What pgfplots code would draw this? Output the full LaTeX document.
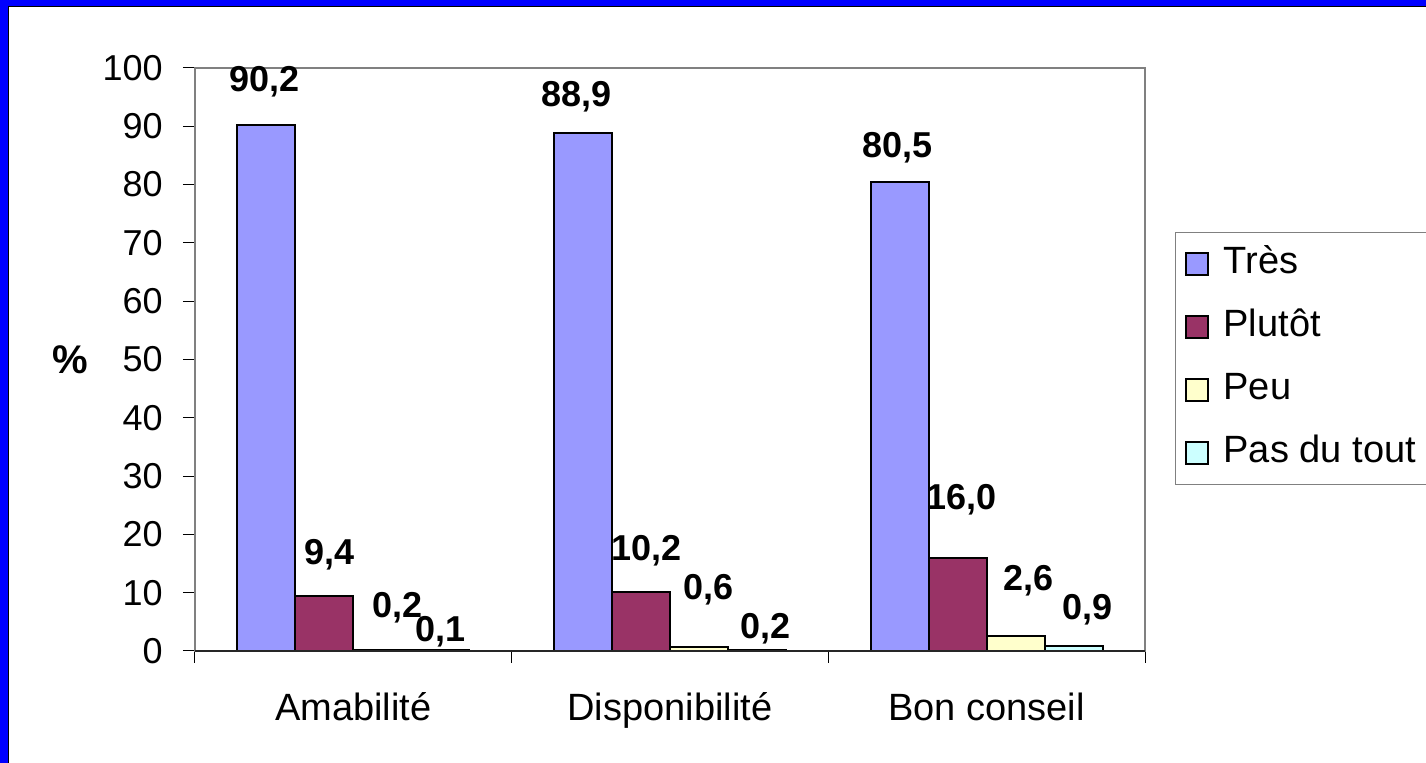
\documentclass[border=0pt]{standalone}
\usepackage{pgfplots}
\pgfplotsset{compat=1.18}
\usepackage{fontspec}
\setmainfont{Liberation Sans}
\definecolor{tres}{HTML}{9999FF}
\definecolor{plutot}{HTML}{993366}
\definecolor{peu}{HTML}{FFFFCC}
\definecolor{pas}{HTML}{CCFFFF}
\definecolor{frameblue}{HTML}{0000FF}
\newcommand\fs{\fontsize{18pt}{21pt}\selectfont}
\newcommand\fl{\fontsize{19pt}{22pt}\selectfont}
\pgfplotstableread{
x y lab
-0.279 97.6 90,2
-0.074 16.5 9,4
0.141 7.5 0,2
0.274 3.3 0,1
0.706 95.0 88,9
0.927 17.2 10,2
1.123 10.5 0,6
1.303 3.9 0,2
1.717 86.3 80,5
1.922 25.9 16,0
2.131 12.0 2,6
2.317 7.0 0,9
}\labels
\begin{document}
\begin{tikzpicture}
\useasboundingbox (0,0) rectangle (713pt,381.5pt);
\clip (0,0) rectangle (713pt,381.5pt);
\fill[frameblue] (0,0) rectangle (713pt,381.5pt);
\fill[white] (4.5pt,0) rectangle (713pt,378pt);
\draw[black, line width=0.6pt] (4.3pt,0) -- (4.3pt,378.2pt) -- (713pt,378.2pt);
\begin{axis}[
  at={(97.5pt,56pt)}, anchor=south west,
  scale only axis, width=475pt, height=291.5pt,
  xmin=-0.5, xmax=2.5, ymin=0, ymax=100,
  clip=false,
  axis line style={draw=gray, line width=0.8pt},
  xtick={0,1,2}, xticklabels={Amabilité,Disponibilité,Bon conseil},
  minor xtick={-0.5,0.5,1.5,2.5},
  major x tick style={draw=none},
  minor x tick style={draw=black, line width=0.5pt},
  ytick={0,10,...,100},
  ytick style={draw=black, line width=0.5pt},
  tick align=outside, tick pos=left,
  major tick length=6pt, minor tick length=6pt,
  ticklabel style={font=\fs},
  /pgf/number format/assume math mode=true,
  xticklabel style={font=\fl, anchor=center, yshift=-24pt, text height=13.5pt, text depth=4pt},
  yticklabel style={anchor=east, inner sep=0pt, xshift=-10pt},
  ylabel={\%},
  every axis y label/.style={at={(rel axis cs:0,0.5)}, anchor=center, xshift=-62.5pt, font=\fontsize{20pt}{24pt}\selectfont\bfseries},
  legend image code/.code={\path (0pt,0pt) (18pt,0pt); \draw[#1, line width=1pt] (1.5pt,-5.5pt) rectangle (12.5pt,5.5pt);},
  legend style={at={(rel axis cs:1.0316,0.7187)}, anchor=north west, draw=gray, line width=0.6pt,
    font=\fl, row sep=11.5pt, inner xsep=3pt, inner ysep=5.75pt,
    nodes={inner sep=2pt, text height=12.5pt, text depth=3.5pt}},
  legend cell align=left,
]
\addplot[ybar, fill=tres, draw=black, line width=1pt, bar width=29pt, bar shift=-43.5pt] coordinates {(0,90.2) (1,88.9) (2,80.5)};
\addplot[ybar, fill=plutot, draw=black, line width=1pt, bar width=29pt, bar shift=-14.5pt] coordinates {(0,9.4) (1,10.2) (2,16.0)};
\addplot[ybar, fill=peu, draw=black, line width=1pt, bar width=29pt, bar shift=14.5pt] coordinates {(0,0.2) (1,0.6) (2,2.6)};
\addplot[ybar, fill=pas, draw=black, line width=1pt, bar width=29pt, bar shift=43.5pt] coordinates {(0,0.1) (1,0.2) (2,0.9)};
\legend{\makebox[104pt][l]{Très},\makebox[104pt][l]{Plutôt},\makebox[104pt][l]{Peu},\makebox[104pt][l]{Pas du tout}}
\addplot[draw=none, mark=none, forget plot, nodes near coords, point meta=explicit symbolic,
  nodes near coords style={anchor=center, font=\fs\bfseries, inner sep=0pt}] table[x=x, y=y, meta=lab] {\labels};
\draw[black!85, line width=0.8pt] (rel axis cs:0,0) -- (rel axis cs:1,0);
\end{axis}
\end{tikzpicture}
\end{document}
